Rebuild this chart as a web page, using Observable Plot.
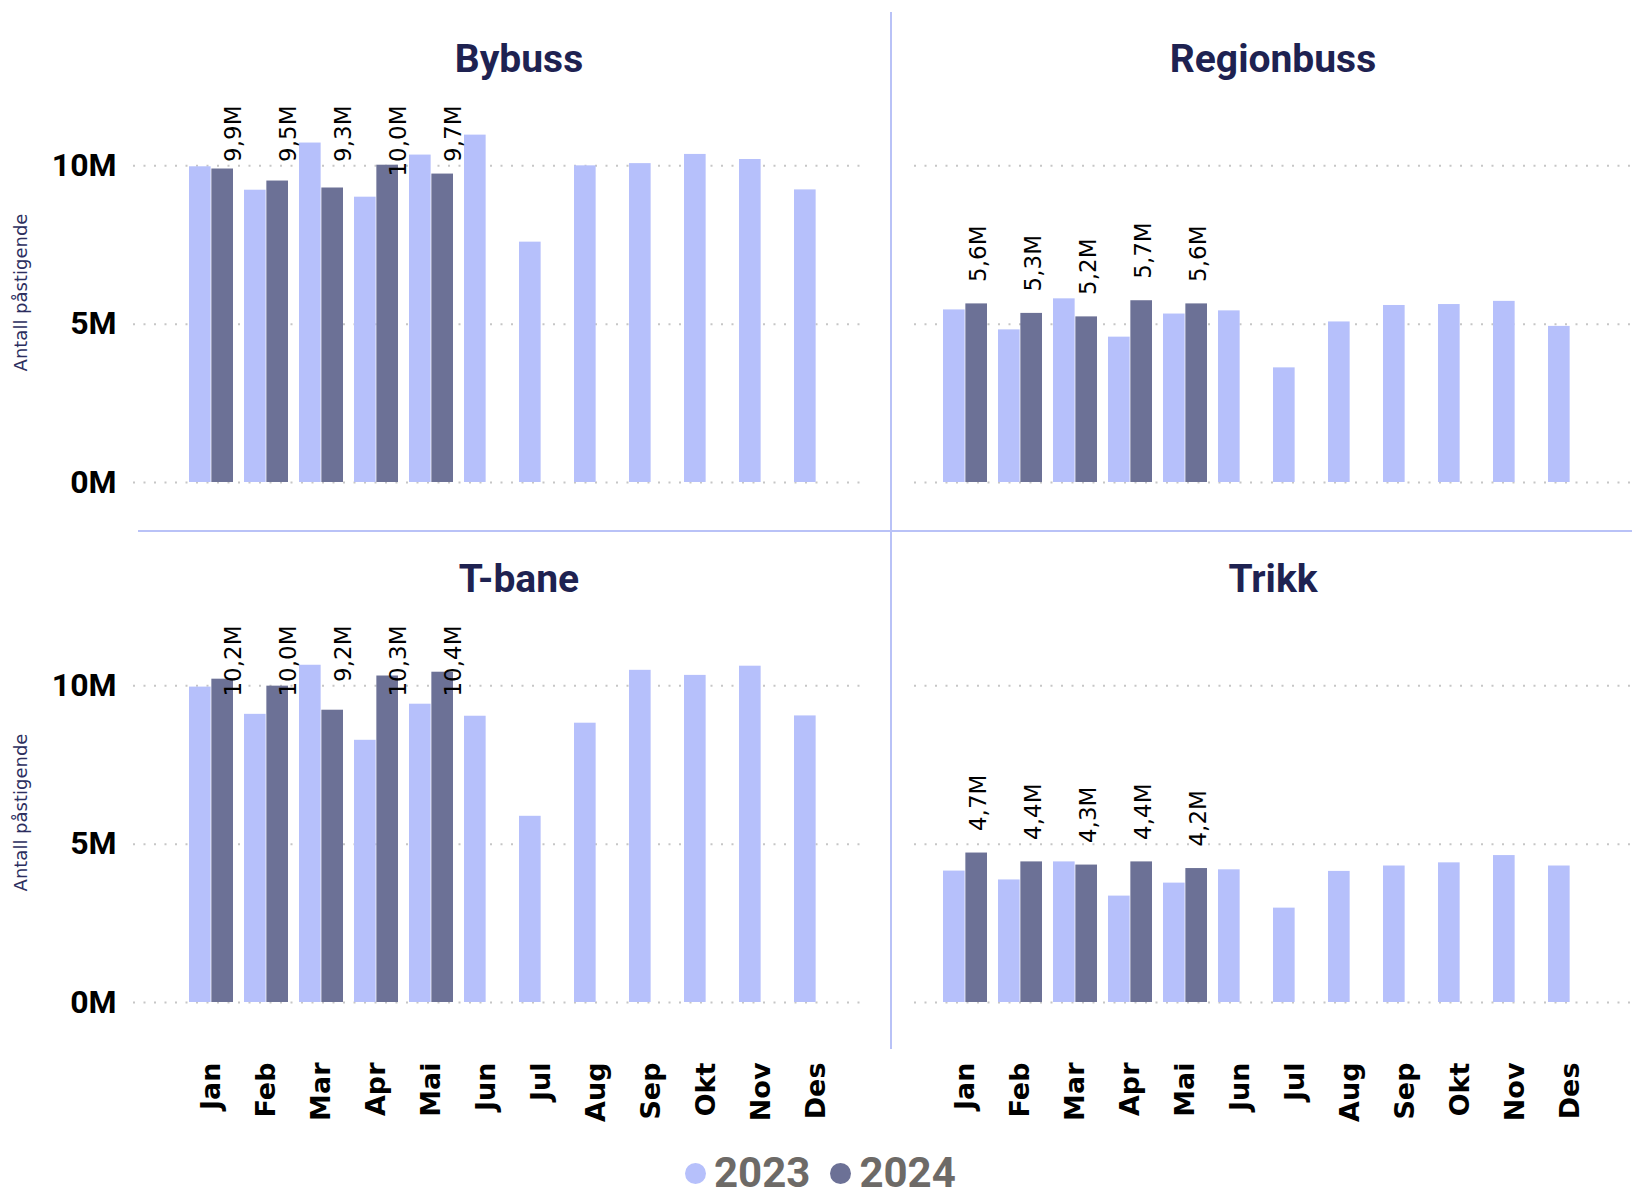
<!DOCTYPE html>
<html><head><meta charset="utf-8">
<script src="https://cdn.jsdelivr.net/npm/d3@7"></script>
<script src="https://cdn.jsdelivr.net/npm/@observablehq/plot@0.6"></script>
<style>
html,body{margin:0;padding:0;background:#fff;overflow:hidden;}
#root{position:relative;width:1632px;height:1199px;background:#fff;overflow:hidden;}
.panel{position:absolute;}
.panel svg{max-width:none;}
.title{position:absolute;width:400px;text-align:center;font-family:Roboto,sans-serif;font-weight:700;font-size:39px;line-height:39px;color:#1e2251;z-index:3;}
.vline{position:absolute;left:890px;top:12px;width:2px;height:1037px;background:#b9c2f7;z-index:5;}
.hline{position:absolute;left:138px;top:530px;width:1494px;height:2px;background:#b9c2f7;z-index:5;}
.legend{position:absolute;left:685px;top:1152px;display:flex;align-items:center;font-family:Roboto,sans-serif;font-weight:700;font-size:42px;line-height:42px;color:#6d6a67;z-index:3;}
.legend .dot{width:21px;height:21px;border-radius:50%;margin-right:8px;}
.legend .item{display:flex;align-items:center;margin-right:20px;}
</style>
</head><body><div id="root"></div>
<script>
const months = ["Jan","Feb","Mar","Apr","Mai","Jun","Jul","Aug","Sep","Okt","Nov","Des"];
const years = ["2023","2024"];
const yTicks = [0, 5, 10];
const bybuss2023 = [9.97, 9.23, 10.72, 9.01, 10.34, 10.97, 7.59, 10.0, 10.07, 10.36, 10.2, 9.24];
const bybuss2024 = [9.9, 9.52, 9.3, 10.02, 9.74];
const regionbuss2023 = [5.45, 4.82, 5.8, 4.59, 5.32, 5.42, 3.62, 5.07, 5.59, 5.62, 5.72, 4.93];
const regionbuss2024 = [5.64, 5.34, 5.23, 5.74, 5.64];
const tbane2023 = [9.96, 9.1, 10.65, 8.28, 9.42, 9.04, 5.88, 8.82, 10.49, 10.33, 10.62, 9.05];
const tbane2024 = [10.21, 9.99, 9.23, 10.31, 10.43];
const trikk2023 = [4.15, 3.87, 4.44, 3.36, 3.77, 4.19, 2.98, 4.14, 4.31, 4.41, 4.64, 4.31];
const trikk2024 = [4.72, 4.44, 4.34, 4.44, 4.23];
const panelNames = ["Bybuss", "Regionbuss", "T-bane", "Trikk"];
const yLabel = "Antall påstigende";

const color23 = "#b6c0fb", color24 = "#6c7196";
const pad = 0.2;
const cols = [
  {left: 0, width: 890, ml: 133, mr: 28, range: [184.2, 843.7], titleCenter: 519},
  {left: 890, width: 742, ml: 24, mr: 0, range: [47.8, 707.3], titleCenter: 1273}
];
const rows = [
  {top: 0, height: 520, mb: 38, titleTop: 40},
  {top: 520, height: 679, mb: 197, titleTop: 560}
];
const panels = [
  {name: panelNames[0], v23: bybuss2023, v24: bybuss2024, col: 0, row: 0, clamp: true},
  {name: panelNames[1], v23: regionbuss2023, v24: regionbuss2024, col: 1, row: 0, clamp: false},
  {name: panelNames[2], v23: tbane2023, v24: tbane2024, col: 0, row: 1, clamp: true},
  {name: panelNames[3], v23: trikk2023, v24: trikk2024, col: 1, row: 1, clamp: false}
];
const fmt = v => d3.format(".1f")(v).replace(".", ",") + "M";
const root = document.getElementById("root");

function makePanel(p) {
  const col = cols[p.col], row = rows[p.row];
  const step = (col.range[1] - col.range[0]) / (months.length - pad);
  const half = step * (1 - pad) / 2;
  const d23 = months.map((m, i) => ({month: m, value: p.v23[i]}));
  const d24 = p.v24.map((v, i) => ({month: months[i], value: v, label: fmt(v)}));
  const labelStyle = {fontSize: 23, fontFamily: "DejaVu Sans", fill: "#000"};
  const marks = [
    Plot.ruleY(yTicks, {stroke: "#c6c6c6", strokeWidth: 2, strokeDasharray: "2,8.5"}),
    Plot.barY(d23, {x: "month", y: "value", fill: color23, insetRight: half}),
    Plot.barY(d24, {x: "month", y: "value", fill: color24, insetLeft: half}),
    p.clamp
      ? Plot.text(d24, {x: "month", text: "label", frameAnchor: "top", rotate: -90, textAnchor: "end", dx: half / 2 + 2, dy: 3, ...labelStyle})
      : Plot.text(d24, {x: "month", y: "value", text: "label", rotate: -90, textAnchor: "start", dx: half / 2 + 2, dy: -22, ...labelStyle})
  ];
  if (p.col === 0) {
    marks.push(Plot.axisY({ticks: yTicks, tickFormat: d => d + "M", tickSize: 0, tickPadding: 17, fontSize: 32, fontWeight: "bold", fontFamily: "Roboto", fill: "#000", label: null}));
    marks.push(Plot.text([yLabel], {text: d => d, frameAnchor: "left", textAnchor: "middle", dx: -112, rotate: -90, fontSize: 18, fontFamily: "DejaVu Sans", fill: "#2c2e5e"}));
  }
  if (p.row === 1) {
    marks.push(Plot.axisX({tickRotate: -90, tickSize: 0, tickPadding: 60, fontSize: 27, fontWeight: "bold", fontFamily: "DejaVu Sans", fill: "#000", label: null}));
  }
  const xOpts = {type: "band", domain: months, range: col.range, paddingInner: pad, paddingOuter: 0};
  if (p.row === 0) xOpts.axis = null;
  const yOpts = {domain: [0, 12]};
  if (p.col === 1) yOpts.axis = null;
  const chart = Plot.plot({
    width: col.width, height: row.height,
    marginLeft: col.ml, marginRight: col.mr, marginTop: 102, marginBottom: row.mb,
    x: xOpts, y: yOpts, marks
  });
  const div = document.createElement("div");
  div.className = "panel";
  div.style.left = col.left + "px";
  div.style.top = row.top + "px";
  div.style.width = col.width + "px";
  div.style.height = row.height + "px";
  div.appendChild(chart);
  root.appendChild(div);
  const t = document.createElement("div");
  t.className = "title";
  t.textContent = p.name;
  t.style.left = (col.titleCenter - 200) + "px";
  t.style.top = row.titleTop + "px";
  root.appendChild(t);
}
panels.forEach(makePanel);

const v = document.createElement("div"); v.className = "vline"; root.appendChild(v);
const h = document.createElement("div"); h.className = "hline"; root.appendChild(h);
const lg = document.createElement("div"); lg.className = "legend";
years.forEach((y, i) => {
  const it = document.createElement("div"); it.className = "item";
  const dot = document.createElement("span"); dot.className = "dot"; dot.style.background = i === 0 ? color23 : color24;
  const tx = document.createElement("span"); tx.textContent = y;
  it.appendChild(dot); it.appendChild(tx); lg.appendChild(it);
});
root.appendChild(lg);
</script>
</body></html>
